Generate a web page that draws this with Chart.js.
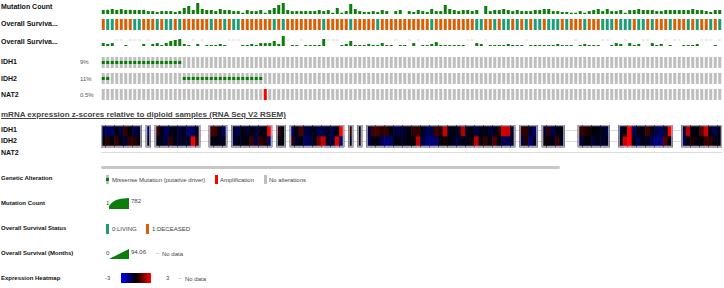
<!DOCTYPE html>
<html>
<head>
<meta charset="utf-8">
<script src="https://cdn.jsdelivr.net/npm/chart.js@4.4.1/dist/chart.umd.min.js"></script>
<style>
  body { margin: 0; background: #fff; font-family: "Liberation Sans", Arial, sans-serif; }
  #wrap { position: relative; width: 724px; height: 288px; overflow: hidden; }
  #wrap canvas { position: absolute; left: 101px; }
  .lbl { position: absolute; left: 1px; font-weight: bold; font-size: 7px; color: #111; white-space: nowrap; line-height: 10px; height: 10px; }
  .pct { position: absolute; left: 80px; font-size: 6px; color: #555; line-height: 10px; }
  .head { position: absolute; left: 1px; top: 110px; font-weight: bold; font-size: 8px; color: #444; text-decoration: underline; white-space: nowrap; line-height: 10px; }
  .scroll { position: absolute; left: 101px; top: 166px; width: 459px; height: 3px; border-radius: 2px; background: #c8c8c8; }
  .leg { position: absolute; left: 1px; font-weight: bold; font-size: 6px; color: #111; white-space: nowrap; line-height: 10px; }
  .lt { position: absolute; font-size: 6px; color: #444; white-space: nowrap; line-height: 10px; }
  .sw { position: absolute; }
</style>
</head>
<body>
<div id="wrap">
  <div class="lbl" style="top:2px">Mutation Count</div>
  <div class="lbl" style="top:19px">Overall Surviva...</div>
  <div class="lbl" style="top:37px">Overall Surviva...</div>
  <div class="lbl" style="top:57px">IDH1</div><div class="pct" style="top:57px">9%</div>
  <div class="lbl" style="top:74px">IDH2</div><div class="pct" style="top:74px">11%</div>
  <div class="lbl" style="top:90px">NAT2</div><div class="pct" style="top:90px">0.5%</div>

  <canvas id="mc" width="621" height="12" style="top:2px"></canvas>
  <canvas id="oss" width="621" height="11" style="top:19px"></canvas>
  <canvas id="osm" width="621" height="12" style="top:34px"></canvas>
  <canvas id="g0" width="621" height="11" style="top:57px"></canvas>
  <canvas id="g1" width="621" height="11" style="top:73px"></canvas>
  <canvas id="g2" width="621" height="11" style="top:89px"></canvas>

  <div class="head">mRNA expression z-scores relative to diploid samples (RNA Seq V2 RSEM)</div>
  <div class="lbl" style="top:125px">IDH1</div>
  <div class="lbl" style="top:136px">IDH2</div>
  <div class="lbl" style="top:148px">NAT2</div>
  <canvas id="hm" width="621" height="33" style="top:125px"></canvas>
  <div class="scroll"></div>

  <!-- legend -->
  <div class="leg" style="top:173px">Genetic Alteration</div>
  <div class="sw" style="left:106px;top:175px;width:3px;height:9px;background:#bebebe"></div>
  <div class="sw" style="left:106px;top:178px;width:3px;height:3px;background:#008000"></div>
  <div class="lt" style="left:112px;top:175px">Missense Mutation (putative driver)</div>
  <div class="sw" style="left:215px;top:175px;width:3px;height:9px;background:#ff0000"></div>
  <div class="lt" style="left:220px;top:175px">Amplification</div>
  <div class="sw" style="left:264px;top:175px;width:3px;height:9px;background:#bebebe"></div>
  <div class="lt" style="left:269px;top:175px">No alterations</div>

  <div class="leg" style="top:198px">Mutation Count</div>
  <div class="lt" style="left:106px;top:198px">1</div>
  <div class="sw" style="left:109px;top:198px;width:20px;height:11px;background:#0a7d0a;clip-path:polygon(0 100%,0 72%,15% 40%,35% 18%,60% 6%,100% 0,100% 100%)"></div>
  <div class="lt" style="left:131px;top:196px">782</div>

  <div class="leg" style="top:223px">Overall Survival Status</div>
  <div class="sw" style="left:106px;top:224px;width:3px;height:10px;background:#1b9e77"></div>
  <div class="lt" style="left:112px;top:224px">0:LIVING</div>
  <div class="sw" style="left:146px;top:224px;width:3px;height:10px;background:#d95f02"></div>
  <div class="lt" style="left:152px;top:224px">1:DECEASED</div>

  <div class="leg" style="top:248px">Overall Survival (Months)</div>
  <div class="lt" style="left:106px;top:248px">0</div>
  <div class="sw" style="left:109px;top:249px;width:20px;height:10px;background:#0a7d0a;clip-path:polygon(0 100%,100% 0,100% 100%)"></div>
  <div class="lt" style="left:131px;top:247px">94.06</div>
  <div class="sw" style="left:156px;top:253px;width:3px;height:1px;background:#d4d4d4"></div>
  <div class="lt" style="left:162px;top:249px">No data</div>

  <div class="leg" style="top:273px">Expression Heatmap</div>
  <div class="lt" style="left:105px;top:273px">-3</div>
  <div class="sw" style="left:121px;top:273px;width:30px;height:10px;background:linear-gradient(to right,#0000ff,#000000,#ff0000)"></div>
  <div class="lt" style="left:166px;top:273px">3</div>
  <div class="sw" style="left:179px;top:278px;width:3px;height:1px;background:#d4d4d4"></div>
  <div class="lt" style="left:185px;top:274px">No data</div>
</div>

<script>
// ---- data (one entry per sample column, left to right) ----
const mutationCount = [
  9,10,16,9,15,9,10,9,9,10,5,5,3,5,5,5,3,5,28,85,9,449,16,9,9,5,16,9,
  9,5,5,2,9,5,5,9,2,9,28,148,449,9,5,5,5,5,5,5,9,5,9,2,28,2,5,258,
  16,5,3,3,5,3,9,5,1,5,9,1,5,3,9,5,3,16,5,5,148,16,9,5,9,9,5,9,
  1,85,5,9,9,16,9,5,9,5,5,5,9,9,16,16,5,5,3,3,2,2,5,2,5,9,16,5,
  16,5,5,9,2,9,9,16,9,9,9,5,5,9,9,9,9,9,9,16,9,9,5,3,9,9
];
// 0 = LIVING, 1 = DECEASED
const survivalStatus = [
  1,0,0,1,1,1,1,0,0,1,1,1,0,1,0,0,1,0,1,1,1,1,1,1,0,1,1,0,
  1,0,0,1,1,1,1,1,1,1,0,1,0,1,1,1,1,1,1,1,1,0,1,1,1,1,1,0,
  1,1,1,1,1,0,1,1,1,1,1,1,1,1,1,1,1,0,1,1,1,1,1,1,1,1,1,0,
  0,1,1,0,1,
  0,0,1,0,1,0,1,0,0,1,0,0,0,1,0,1,1,1,0,1,1,1,0,0,0,1,0,0,0,1,0,0,1,0,1,1,1,0,1,1,1,0,1,0,1,1,0,1,0
];
const survivalMonths = [
  23,16,23,null,null,8,null,null,null,16,null,16,23,8,23,39,47,55,16,8,null,16,null,8,8,8,16,8,
  null,null,null,8,8,16,8,23,23,23,39,16,78,null,8,8,null,8,8,8,8,55,null,null,null,8,16,39,
  8,8,8,16,8,8,23,8,8,null,8,8,null,23,null,8,8,16,31,8,8,8,8,8,8,null,null,23,
  16,null,8,8,8,8,16,8,8,8,null,8,8,8,8,8,8,16,8,8,8,null,8,16,8,8,8,null,
  null,8,23,16,null,23,8,16,null,null,23,8,16,null,8,null,null,8,8,8,16,null,null,null,8,null
];
const genes = ['IDH1', 'IDH2', 'NAT2'];
const idh1Missense = [0,1,2,3,4,5,6,7,8,9,10,11,12,13,14,15,16,17];
const idh2Missense = [0,1,18,19,20,21,22,23,24,25,26,27,28,29,30,31,32,33,34,35];
const nat2Amplified = [36];
// mRNA z-scores, null = not profiled
const zIDH1 = [
  -0.7,-1.2,-1.0,-0.2,-0.8,0.6,-0.1,-0.9,-0.5, null, -1.3, null,
  0.7,-0.2,-1.1,-0.4,-0.2,-0.8,-0.3,-1.3,-1.1,-0.2, null,null,
  0.8,0.7,-0.2,-1.2, null,
  -0.4,-1.0,-0.2,-0.6,-0.1,-0.7,-0.3,-0.2,3.0, null,
  0.7,-0.3, null,
  -1.1,-0.2,0.9,-0.8,-0.5,-0.2,-1.0,-0.8,-0.4,-0.9,-0.2,3.0, null,
  0.6, null, -0.1, null,
  -0.8,0.7,0.8,0.5,0.6,-0.2,-0.7,-0.8,-0.5,-0.2,0.6,0.6,-0.3,-1.0,-0.8,0.7,0.4,2.4,-0.4,-0.2,-0.4,2.1,-0.4,-0.2,-0.8,-0.3,-0.1,-0.7,-0.4,0.4,2.5,2.4,-0.5, null,
  0.6,0.5,-0.5,-1.3, null,
  -0.7,0.5,-0.9,-0.2,-0.2, null,null,null,
  0.6,0.5,0.3,-0.1,-0.2,-0.3,-0.8, null,null,
  -0.6,-0.1,3.0,-1.0,-0.2,-0.3,0.8,-0.2,-0.8,-1.2,-0.4,3.0, null,null,
  -0.8,2.2,-0.2,-0.2,1.0,2.4,-0.4,-0.9,-0.2
];
const zIDH2 = [
  -0.1,0.5,-0.1,0.6,-0.2,-0.6,0.6,0.5,-0.1, null, -0.2, null,
  -0.1,-0.3,-0.8,0.6,-0.2,-0.6,-0.4,-0.5,2.8,0.5, null,null,
  -0.1,-0.2,-0.4,-0.2, null,
  -0.8,-0.2,-0.3,-0.1,0.7,-0.8,0.6,0.3,-1.0, null,
  -0.2,-0.1, null,
  0.6,-0.5,-0.2,-1.1,-0.9,-0.3,1.3,2.4,-0.4,-0.7,2.6,-1.1, null,
  -0.2, null, 0.4, null,
  -1.0,-0.2,-0.2,-1.0,-1.4,-1.2,-0.2,-0.2,-0.4,-0.1,-0.1,2.2,-0.7,-1.4,-1.4,-1.3,-0.2,0.2,-0.1,-0.4,-0.7,-0.2,-0.3,0.3,2.3,-0.2,0.6,-0.2,1.0,-0.2,-0.9,-1.0,-0.5, null,
  -0.8,0.4,-1.4,-0.2, null,
  0.2,-0.1,-0.3,0.7,-0.4, null,null,null,
  -0.8,-0.2,-0.1,-0.7,-0.2,-0.5,-0.3, null,null,
  -0.3,2.4,3.0,-0.2,-0.9,-0.2,-0.4,-1.0,-1.5,-1.4,1.0,-0.2, null,null,
  -1.0,-0.2,0.4,-0.2,-0.1,0.7,0.6,-0.2,-0.2
];

const samples = mutationCount.map((_, i) => 'S' + (i + 1));
const GREEN = '#0a7d0a';
const GRAY = '#bebebe';

function trackChart(id, datasets, yopts, barPct) {
  return new Chart(document.getElementById(id), {
    type: 'bar',
    data: { labels: samples, datasets },
    options: {
      responsive: false,
      animation: false,
      events: [],
      layout: { padding: 0 },
      plugins: { legend: { display: false }, tooltip: { enabled: false } },
      scales: {
        x: { display: false },
        y: Object.assign({ display: false }, yopts),
      },
      datasets: { bar: { barPercentage: barPct, categoryPercentage: 1, grouped: false } },
    },
  });
}

// Mutation count (log scale)
trackChart('mc', [{ data: mutationCount, backgroundColor: GREEN }],
  { type: 'logarithmic', min: 1, max: 782 }, 0.667);

// Overall survival status
trackChart('oss', [{
  data: survivalStatus.map(() => 1),
  backgroundColor: survivalStatus.map((s) => (s ? '#d95f02' : '#1b9e77')),
}], { min: 0, max: 1 }, 0.667);

// Overall survival months (NA shown as a faint dash)
trackChart('osm', [
  { data: survivalMonths, backgroundColor: GREEN },
  { data: survivalMonths.map((v) => (v === null ? [43, 51] : null)), backgroundColor: '#d8d8d8' },
], { min: 0, max: 94.06 }, 0.667);

// Genetic alteration rows
const altLists = [
  { idx: idh1Missense, type: 'mis' },
  { idx: idh2Missense, type: 'mis' },
  { idx: nat2Amplified, type: 'amp' },
];
altLists.forEach((g, k) => {
  const alt = samples.map((_, i) => {
    if (!g.idx.includes(i)) return null;
    return g.type === 'amp' ? [0, 1] : [0.36, 0.64];
  });
  trackChart('g' + k, [
    { data: alt, backgroundColor: g.type === 'amp' ? '#ff0000' : '#008000' },
    { data: samples.map(() => 1), backgroundColor: GRAY },
  ], { min: 0, max: 1 }, 0.667);
});

// Expression heatmap
function zColor(z) {
  const t = Math.max(-3, Math.min(3, z)) / 3;
  if (t < 0) return `rgb(0,0,${Math.round(-t * 255)})`;
  return `rgb(${Math.round(t * 255)},0,0)`;
}
const hasData = zIDH1.map((v) => v !== null);
new Chart(document.getElementById('hm'), {
  type: 'bar',
  data: {
    labels: samples,
    datasets: [
      {
        data: hasData.map((h) => (h ? [1, 3] : null)),
        backgroundColor: 'rgba(0,0,0,0)',
        borderColor: '#a6a6bb',
        borderSkipped: false,
        borderWidth: (c) => {
          const i = c.dataIndex;
          return { top: 1, bottom: 1, left: hasData[i - 1] ? 0 : 1, right: hasData[i + 1] ? 0 : 1 };
        },
      },
      { data: zIDH1.map((v) => (v === null ? null : [2, 3])), backgroundColor: zIDH1.map((v) => (v === null ? 'transparent' : zColor(v))) },
      { data: zIDH2.map((v) => (v === null ? null : [1, 2])), backgroundColor: zIDH2.map((v) => (v === null ? 'transparent' : zColor(v))) },
    ],
  },
  options: {
    responsive: false,
    animation: false,
    events: [],
    layout: { padding: 0 },
    plugins: { legend: { display: false }, tooltip: { enabled: false } },
    scales: {
      x: { display: false },
      y: {
        min: 0, max: 3,
        ticks: { display: false },
        border: { display: false },
        grid: { color: '#dcdcdc', drawTicks: false },
        afterBuildTicks: (s) => { s.ticks = [{ value: 0.5 }, { value: 1.5 }, { value: 2.5 }]; },
      },
    },
    datasets: { bar: { barPercentage: 1, categoryPercentage: 1, grouped: false } },
  },
});
</script>
</body>
</html>
